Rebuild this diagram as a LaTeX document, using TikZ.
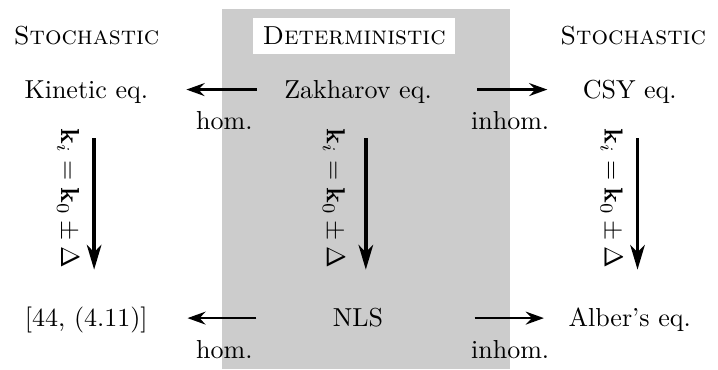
\documentclass[tikz,border=0pt]{standalone}
\usetikzlibrary{arrows.meta,positioning}

\begin{document}
\begin{tikzpicture}[node distance=87.9pt and 104.5pt,on grid,
eq/.style={inner sep=0pt,text height=8pt,text depth=1.5pt},
head/.style={anchor=base,font=\scshape},
lab/.style={anchor=base,yshift=-15.5pt},
harr/.style={-{Stealth[length=7pt,width=5pt,inset=2.4pt]},line width=0.85pt},
varr/.style={-{Stealth[length=9.5pt,width=5.6pt,inset=2.8pt]},line width=1.3pt,shorten <=13.7pt,shorten >=13.7pt},
klab/.style={anchor=base,rotate=-90}]
\useasboundingbox (0,0) rectangle (276.15pt,142.3pt);
\node[fill=black!20,inner sep=0pt,minimum width=110.8pt,minimum height=138.8pt,anchor=south west] (band) at (85pt,0) {};
% column headers
\node[head] (stl) at (33.3pt,125pt) {Stochastic};
\node[head,fill=white,inner sep=3.5pt] (det) at (136.2pt,125pt) {Deterministic};
\node[head] (str) at (243.5pt,125pt) {Stochastic};
% equations
\node[eq] (zak) at (137.7pt,107.85pt) {Zakharov eq.};
\node[eq,left=of zak] (kin) {Kinetic eq.};
\node[eq,right=of zak] (csy) {CSY eq.};
\node[eq,below=of zak] (nls) {NLS};
\node[eq,below=of kin] (ref) {[44, (4.11)]};
\node[eq,below=of csy] (alb) {Alber's eq.};
% limits
\draw[harr,shorten <=10.35pt,shorten >=14.55pt] (zak) -- (kin);
\draw[harr,shorten <=17.3pt,shorten >=13.45pt] (zak) -- (csy);
\draw[harr,shorten <=29.2pt,shorten >=15.1pt] (nls) -- (ref);
\draw[harr,shorten <=34.95pt,shorten >=9.3pt] (nls) -- (alb);
\node[lab,xshift=1.3pt] (hom1) at (band.west |- zak) {hom.};
\node[lab] (inh1) at (band.east |- zak) {inhom.};
\node[lab,xshift=1.3pt] (hom2) at (band.west |- nls) {hom.};
\node[lab] (inh2) at (band.east |- nls) {inhom.};
\draw[varr] ([xshift=3pt]kin.south) -- node[midway,xshift=-12.7pt,yshift=2.1pt,klab] {$\mathbf{k}_i=\mathbf{k}_0\pm\Delta$} ([xshift=3pt]ref.north);
\draw[varr] ([xshift=3pt]zak.south) -- node[midway,xshift=-15pt,yshift=2.1pt,klab] {$\mathbf{k}_i=\mathbf{k}_0\pm\Delta$} ([xshift=3pt]nls.north);
\draw[varr] ([xshift=3pt]csy.south) -- node[midway,xshift=-12.7pt,yshift=2.1pt,klab] {$\mathbf{k}_i=\mathbf{k}_0\pm\Delta$} ([xshift=3pt]alb.north);
\end{tikzpicture}
\end{document}
